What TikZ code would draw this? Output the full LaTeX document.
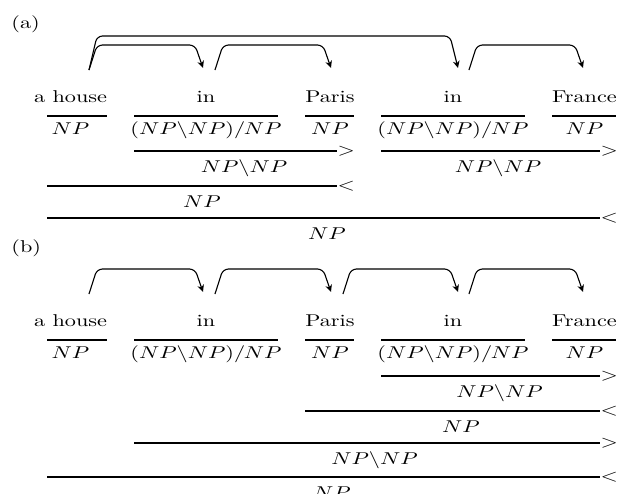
\documentclass[tikz,border=0pt]{standalone}
\usepackage{graphicx}
\usetikzlibrary{arrows.meta,calc}
% text is set a little flatter than its natural height
\newcommand\squashtxt[1]{\scalebox{1}[0.77]{#1}}
\tikzset{
  word/.style={inner sep=0pt, anchor=base},
  tag/.style={inner sep=0pt, anchor=base west},
  rule/.style={line width=0.5pt},
  sym/.style={inner sep=0pt, anchor=west},
  dep/.style={line width=0.5pt, rounded corners=2.5pt,
    -{Stealth[length=3.2pt,width=3pt,inset=1pt]}},
}
\begin{document}
\begin{tikzpicture}[x=0.45pt, y=-0.45pt]
\useasboundingbox (0,0) rectangle (625,494);

\node[tag] (lab-a) at (11,28) {\squashtxt{(a)}};
\node[tag] (lab-b) at (11,252) {\squashtxt{(b)}};

% lexical entries of both derivations
\foreach \p/\dy in {a/0, b/224} {
  \begin{scope}[shift={(0,\dy)}]
    \foreach \i/\w/\cx/\l/\r/\cat in {
        1/{a house}/70.5/47/107/{$NP$},
        2/{in}/206/134/278/{$(NP\backslash NP)/NP$},
        3/{Paris}/330/305/354/{$NP$},
        4/{in}/453/381/525/{$(NP\backslash NP)/NP$},
        5/{France}/584.5/552/616/{$NP$}} {
      \node[word] (\p-w\i) at (\cx,102) {\squashtxt{\w}};
      \coordinate (\p-rl\i) at (\l,116);
      \coordinate (\p-rr\i) at (\r,116);
      \draw[rule] (\p-rl\i) -- (\p-rr\i);
      \node[word] (\p-c\i) at (\cx,134) {\squashtxt{\cat}};
    }
  \end{scope}
}

% dependency arcs
\foreach \p/\dy/\n/\s/\e/\top in {
    a/0/1/89/203/45, a/0/2/215/331/45, a/0/3/89/458/36, a/0/4/469/583/45,
    b/224/1/89/203/45, b/224/2/215/331/45, b/224/3/343/458/45, b/224/4/469/583/45} {
  \coordinate (\p-h\n) at (\s,70+\dy);
  \coordinate (\p-t\n) at (\e,68+\dy);
  \draw[dep] (\p-h\n) -- ++(8,\top-70) -- ($(\p-t\n)+(-8,\top-68)$) -- (\p-t\n);
}

% combination steps: name/left/right/y/symbol/label x/label
\foreach \n/\l/\r/\y/\s/\lx/\cat in {
    a1/134/337/151/>/244/{$NP\backslash NP$},
    a2/381/600/151/>/498/{$NP\backslash NP$},
    a3/47/337/186/</202/{$NP$},
    a4/47/600/218/</327/{$NP$},
    b1/381/600/376/>/499.5/{$NP\backslash NP$},
    b2/305/600/411/</461/{$NP$},
    b3/134/600/443/>/374.5/{$NP\backslash NP$},
    b4/47/600/477/</332/{$NP$}} {
  \coordinate (s-\n-l) at (\l,\y);
  \coordinate (s-\n-r) at (\r,\y);
  \draw[rule] (s-\n-l) -- (s-\n-r) node[sym] (s-\n-op) {\squashtxt{$\s$}};
  \node[word] (s-\n-cat) at (\lx,\y+21) {\squashtxt{\cat}};
}
\end{tikzpicture}
\end{document}
